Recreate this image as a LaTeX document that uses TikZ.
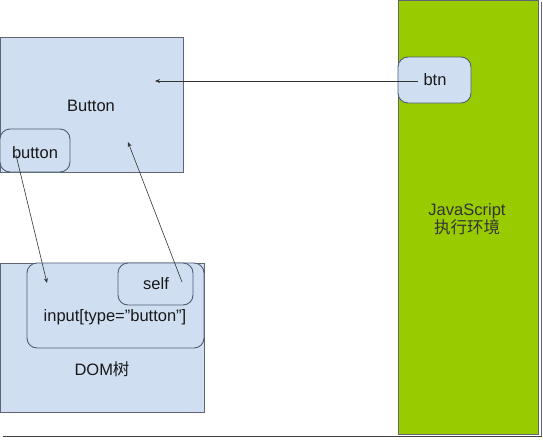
\documentclass[tikz,border=0pt]{standalone}
\usepackage{fontspec}
\setmainfont{Liberation Sans}
\newfontfamily\cjk{Noto Sans CJK SC}
\usetikzlibrary{arrows.meta}
\definecolor{boxblue}{HTML}{D0DEF2}
\definecolor{jsgreen}{HTML}{99CC00}
\definecolor{edgegray}{HTML}{5F6670}
\definecolor{roundedge}{HTML}{4E5D73}
\tikzset{
  plainbox/.style={draw=edgegray, line width=1pt, fill=boxblue},
  roundbox/.style={draw=roundedge, line width=0.9pt, fill=boxblue, rounded corners=10pt},
  lbl/.style={font=\fontsize{16.5}{19}\selectfont, text=black!90, inner sep=0pt},
  conn/.style={draw=black!80, line width=0.6pt, -{Stealth[length=5pt,width=4pt]}},
}
\begin{document}
\begin{tikzpicture}[x=1pt,y=-1pt]
\useasboundingbox (0,0) rectangle (543,440);
\fill[white] (0,0) rectangle (543,440);
% frame shadow
\draw[black!75, line width=1.2pt] (3,436.5) -- (542,436.5);
\draw[black!60, line width=1pt] (541.5,2) -- (541.5,436);
% Button box
\draw[plainbox] (0,37) rectangle (183,172);
\node[lbl] (Button) at (91,106) {Button};
\draw[roundbox] (0,129) rectangle (70,172);
\node[lbl] (button) at (35,153) {button};
% DOM box
\draw[plainbox] (0,263) rectangle (204,412);
\draw[roundbox] (27,263) rectangle (204,348);
\draw[roundbox] (118,263) rectangle (193,305);
\node[lbl] (self) at (156,284) {self};
\node[lbl] (input) at (115,317) {input[type="button"]};
\node[lbl] (dom) at (102,369) {DOM{\cjk 树}};
% JS environment
\draw[draw=edgegray, line width=1pt, fill=jsgreen] (398,0) rectangle (538,434);
\draw[roundbox] (398,57) rectangle (471,103);
\node[lbl] (btn) at (435,80) {btn};
\node[lbl, align=center, text=black!80] (js) at (467,219) {JavaScript\\[-1pt]{\cjk 执行环境}};
% connectors
\coordinate (btnstart) at (418,81);
\coordinate (btnend) at (155,81);
\coordinate (bstart) at (16,155);
\coordinate (bend) at (47,283);
\coordinate (sstart) at (182,282);
\coordinate (send) at (128,142);
\draw[conn] (btnstart) -- (btnend);
\draw[conn] (bstart) -- (bend);
\draw[conn] (sstart) -- (send);
\end{tikzpicture}
\end{document}
